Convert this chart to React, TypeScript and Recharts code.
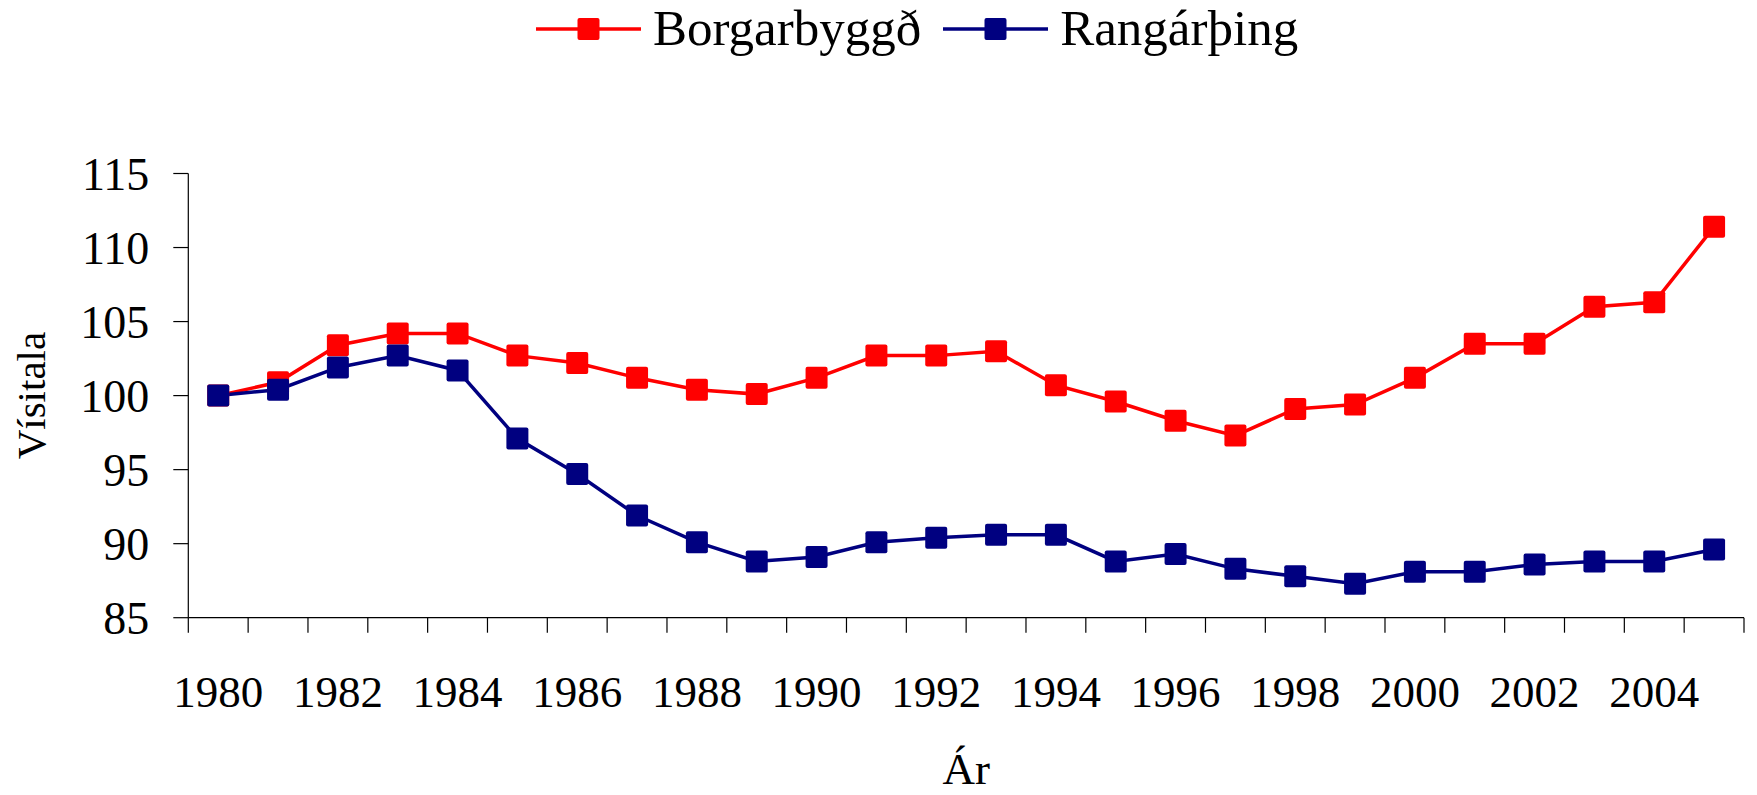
import React from 'react';
import { LineChart, Line, XAxis, YAxis, Legend, Label } from 'recharts';

const FONT = '"Liberation Serif", "Times New Roman", serif';

const years = [1980, 1981, 1982, 1983, 1984, 1985, 1986, 1987, 1988, 1989, 1990, 1991, 1992,
  1993, 1994, 1995, 1996, 1997, 1998, 1999, 2000, 2001, 2002, 2003, 2004, 2005];
const borgarbyggd = [100, 100.9, 103.4, 104.2, 104.2, 102.7, 102.2, 101.2, 100.4, 100.1, 101.2, 102.7, 102.7,
  103.0, 100.7, 99.6, 98.3, 97.3, 99.1, 99.4, 101.2, 103.5, 103.5, 106.0, 106.3, 111.4];
const rangarthing = [100, 100.4, 101.9, 102.7, 101.7, 97.1, 94.7, 91.9, 90.1, 88.8, 89.1, 90.1, 90.4,
  90.6, 90.6, 88.8, 89.3, 88.3, 87.8, 87.3, 88.1, 88.1, 88.6, 88.8, 88.8, 89.6];
const yTicks = [85, 90, 95, 100, 105, 110, 115];
const xLabelYears = [1980, 1982, 1984, 1986, 1988, 1990, 1992, 1994, 1996, 1998, 2000, 2002, 2004];
const seriesNames = ['Borgarbyggð', 'Rangárþing'];
const seriesColors = ['#FF0000', '#000080'];

const data = years.map((year, i) => ({ year, borg: borgarbyggd[i], rang: rangarthing[i] }));
const boundaries = [...years.map((y) => y - 0.5), years[years.length - 1] + 0.5];
const xTicks = [...boundaries, ...xLabelYears].sort((a, b) => a - b);

const XTick = (props: any) => {
  const { x, y, payload } = props;
  const v = payload.value;
  if (Number.isInteger(v)) {
    return (
      <text x={x} y={y + 89} textAnchor="middle" fontSize={45} fontFamily={FONT} fill="#000">
        {v}
      </text>
    );
  }
  return <line x1={x} x2={x} y1={y} y2={y + 15} stroke="#000" strokeWidth={1.2} />;
};

const makeDot = (color: string) => (p: any) => {
  const { cx, cy, index } = p;
  if (cx == null || cy == null) return <g key={`e-${color}-${index}`} />;
  return <rect key={`d-${color}-${index}`} x={cx - 11} y={cy - 11} width={22} height={22} rx={2} fill={color} />;
};

const renderLegend = (props: any) => {
  const payload = props.payload || [];
  return (
    <div style={{ display: 'flex', alignItems: 'center', height: 57, paddingLeft: 536, boxSizing: 'border-box' }}>
      {payload.map((p: any, i: number) => (
        <div key={i} style={{ display: 'flex', alignItems: 'center', marginRight: 22 }}>
          <svg width={105} height={24}>
            <line x1={0} x2={105} y1={12} y2={12} stroke={p.color} strokeWidth={3.5} />
            <rect x={41.5} y={1} width={22} height={22} rx={2} fill={p.color} />
          </svg>
          <span style={{ marginLeft: 12, fontSize: 51, fontFamily: FONT, lineHeight: '57px', color: '#000' }}>
            {p.value}
          </span>
        </div>
      ))}
    </div>
  );
};

export default function App() {
  return (
    <div style={{ position: 'absolute', top: 0, left: 0, background: '#fff' }}>
      <LineChart
        width={1757}
        height={795}
        data={data}
        margin={{ top: 173.5, right: 13, bottom: 27.3, left: 68.3 }}
      >
        <Legend
          layout="horizontal"
          verticalAlign="middle"
          align="center"
          width={1757}
          content={renderLegend}
          wrapperStyle={{ top: 0, left: 0, width: 1757, height: 57, margin: 0 }}
        />
        <XAxis
          dataKey="year"
          type="number"
          domain={[boundaries[0], boundaries[boundaries.length - 1]]}
          ticks={xTicks}
          interval={0}
          tickSize={0}
          tickMargin={0}
          tickLine={false}
          tick={<XTick />}
          height={150}
          axisLine={{ stroke: '#000', strokeWidth: 1.2 }}
        >
          <Label
            content={(p: any) => {
              const vb = p.viewBox;
              return (
                <text x={vb.x + vb.width / 2} y={vb.y + 166} textAnchor="middle" fontSize={45} fontFamily={FONT} fill="#000">
                  Ár
                </text>
              );
            }}
          />
        </XAxis>
        <YAxis
          domain={[85, 115]}
          ticks={yTicks}
          interval={0}
          width={120}
          tickSize={15}
          tickMargin={24}
          tick={{ fill: '#000', fontSize: 46, fontFamily: FONT }}
          tickLine={{ stroke: '#000', strokeWidth: 1.2 }}
          axisLine={{ stroke: '#000', strokeWidth: 1.2 }}
        >
          <Label
            content={(p: any) => {
              const vb = p.viewBox;
              const cx = vb.x - 23;
              const cy = vb.y + vb.height / 2;
              return (
                <text x={cx} y={cy} transform={`rotate(-90, ${cx}, ${cy})`} textAnchor="middle" fontSize={41} fontFamily={FONT} fill="#000">
                  Vísitala
                </text>
              );
            }}
          />
        </YAxis>
        <Line
          dataKey="borg"
          name={seriesNames[0]}
          stroke={seriesColors[0]}
          strokeWidth={3.5}
          dot={makeDot(seriesColors[0])}
          activeDot={false}
          isAnimationActive={false}
        />
        <Line
          dataKey="rang"
          name={seriesNames[1]}
          stroke={seriesColors[1]}
          strokeWidth={3.5}
          dot={makeDot(seriesColors[1])}
          activeDot={false}
          isAnimationActive={false}
        />
      </LineChart>
    </div>
  );
}
